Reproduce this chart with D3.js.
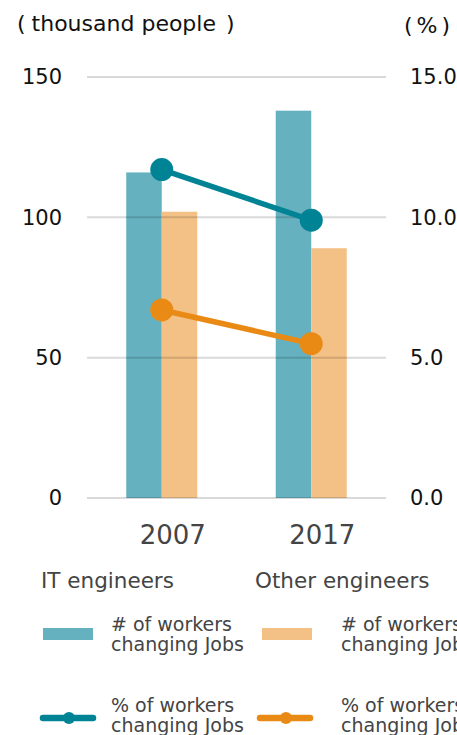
<!DOCTYPE html>
<html>
<head>
<meta charset="utf-8">
<script src="https://cdn.jsdelivr.net/npm/d3@7"></script>
<style>
  html, body { margin: 0; padding: 0; background: #fff; }
  svg { display: block; font-family: "DejaVu Sans", Verdana, sans-serif; }
</style>
</head>
<body>
<svg id="chart" width="457" height="735"></svg>
<script>
// Job changers among engineers
const years = ["2007", "2017"];
const groups = ["IT engineers", "Other engineers"];
const workersIT = [116, 138];      // thousand people
const workersOther = [102, 89];    // thousand people
const pctIT = [11.7, 9.9];         // %
const pctOther = [6.7, 5.5];       // %
const leftTicks = [0, 50, 100, 150];
const rightTicks = [0, 5, 10, 15];

const barColors = ["#66b1c0", "#f3c186"];
const lineColors = ["#008394", "#e98a14"];

const svg = d3.select("#chart");
const plot = { left: 87, right: 386, top: 77, bottom: 498 };

const x = d3.scaleBand().domain(years)
  .range([plot.left, plot.right])
  .paddingInner(0.525).paddingOuter(0.2625);
const xSub = d3.scaleBand().domain([0, 1]).range([0, x.bandwidth()]);
const yL = d3.scaleLinear().domain([0, 150]).range([plot.bottom, plot.top]);
const yR = d3.scaleLinear().domain([0, 15]).range([plot.bottom, plot.top]);

// bars
const barSeries = [workersIT, workersOther];
barSeries.forEach((vals, s) => {
  svg.append("g").selectAll("rect").data(years).join("rect")
    .attr("x", (d) => x(d) + xSub(s))
    .attr("width", xSub.bandwidth())
    .attr("y", (d, i) => yL(vals[i]))
    .attr("height", (d, i) => yL(0) - yL(vals[i]))
    .attr("fill", barColors[s]);
});

// gridlines (translucent, drawn over the bars)
svg.append("g").selectAll("line").data(leftTicks).join("line")
  .attr("x1", plot.left).attr("x2", plot.right)
  .attr("y1", d => yL(d)).attr("y2", d => yL(d))
  .attr("stroke", "#000").attr("stroke-opacity", 0.15).attr("stroke-width", 2);

// left axis
const axL = svg.append("g").attr("transform", `translate(${plot.left - 25},0)`)
  .call(d3.axisLeft(yL).tickValues(leftTicks).tickSize(0).tickPadding(0));
axL.select(".domain").remove();
axL.selectAll("text").attr("font-size", 21).attr("fill", "#111")
  .attr("font-family", "DejaVu Sans, Verdana, sans-serif");

// right axis
const axR = svg.append("g").attr("transform", `translate(${plot.right + 24},0)`)
  .call(d3.axisRight(yR).tickValues(rightTicks).tickFormat(d3.format(".1f")).tickSize(0).tickPadding(0));
axR.select(".domain").remove();
axR.selectAll("text").attr("font-size", 21).attr("fill", "#111")
  .attr("font-family", "DejaVu Sans, Verdana, sans-serif");

// bottom axis labels
const axB = svg.append("g").attr("transform", `translate(11,${plot.bottom + 26})`)
  .call(d3.axisBottom(x).tickSize(0).tickPadding(0));
axB.select(".domain").remove();
axB.selectAll("text").attr("font-size", 26).attr("fill", "#444").attr("dy", "0.75em")
  .attr("font-family", "DejaVu Sans, Verdana, sans-serif");

// unit labels
const unitL = svg.append("text").attr("x", 17).attr("y", 31).attr("font-size", 22).attr("fill", "#111");
unitL.append("tspan").text("(");
unitL.append("tspan").attr("dx", 6).text("thousand people");
unitL.append("tspan").attr("dx", 10).text(")");
const unitR = svg.append("text").attr("x", 404).attr("y", 33).attr("font-size", 22).attr("fill", "#111");
unitR.append("tspan").text("(");
unitR.append("tspan").attr("dx", 4).text("%");
unitR.append("tspan").attr("dx", 4).text(")");

// lines
const lineSeries = [pctIT, pctOther];
const cx = d => x(d) + x.bandwidth() / 2;
lineSeries.forEach((vals, s) => {
  const pts = years.map((d, i) => [cx(d), yR(vals[i])]);
  svg.append("path").attr("d", d3.line()(pts))
    .attr("fill", "none").attr("stroke", lineColors[s]).attr("stroke-width", 5.5);
  svg.append("g").selectAll("circle").data(pts).join("circle")
    .attr("cx", p => p[0]).attr("cy", p => p[1]).attr("r", 11.5)
    .attr("fill", lineColors[s]);
});

// legend
const legX = [41, 255];
const lg = svg.append("g").attr("fill", "#444");
groups.forEach((g, s) => {
  lg.append("text").attr("x", legX[s]).attr("y", 588).attr("font-size", 21.5).text(g);
  const sx = legX[s] + 2 + s * 5;
  lg.append("rect").attr("x", sx).attr("y", 628).attr("width", 50).attr("height", 12)
    .attr("fill", barColors[s]);
  const tx = legX[s] + 70 + s * 16;
  const t1 = lg.append("text").attr("x", tx).attr("font-size", 19);
  t1.append("tspan").attr("x", tx).attr("y", 631).text("# of workers");
  t1.append("tspan").attr("x", tx).attr("y", 651).text("changing Jobs");
  const lx = legX[s] + 2 + s * 3;
  lg.append("line").attr("x1", lx).attr("x2", lx + 50).attr("y1", 718).attr("y2", 718)
    .attr("stroke", lineColors[s]).attr("stroke-width", 6.5).attr("stroke-linecap", "round");
  lg.append("circle").attr("cx", lx + 26).attr("cy", 718).attr("r", 6).attr("fill", lineColors[s]);
  const t2 = lg.append("text").attr("x", tx).attr("font-size", 19);
  t2.append("tspan").attr("x", tx).attr("y", 712).text("% of workers");
  t2.append("tspan").attr("x", tx).attr("y", 732).text("changing Jobs");
});
</script>
</body>
</html>
